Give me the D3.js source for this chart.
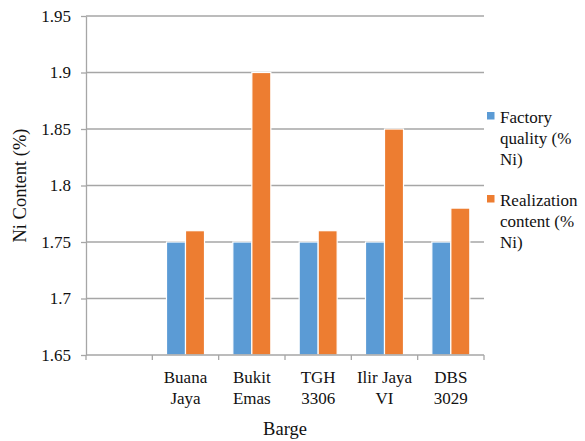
<!DOCTYPE html>
<html>
<head>
<meta charset="utf-8">
<script src="https://cdn.jsdelivr.net/npm/d3@7"></script>
</head>
<body style="margin:0;background:#fff">
<svg id="chart" width="585" height="441" font-family="Liberation Serif" style="display:block"></svg>
<script>
// Barge categories (first slot is left empty on the axis)
const categories = ["", "Buana\nJaya", "Bukit\nEmas", "TGH\n3306", "Ilir Jaya\nVI", "DBS\n3029"];
const seriesNames = ["Factory quality (% Ni)", "Realization content (% Ni)"];
const legendLines = [["Factory", "quality (%", "Ni)"], ["Realization", "content (%", "Ni)"]];
const factoryQuality = [null, 1.75, 1.75, 1.75, 1.75, 1.75];
const realizationContent = [null, 1.76, 1.90, 1.76, 1.85, 1.78];
const yTicks = [1.65, 1.7, 1.75, 1.8, 1.85, 1.9, 1.95];
const colors = ["#5B9BD5", "#ED7D31"];

const FONT = "Liberation Serif";
const svg = d3.select("#chart");
const margin = { left: 86, right: 101, top: 16, bottom: 86 };
const width = 585 - margin.left - margin.right;
const height = 441 - margin.top - margin.bottom;

const g = svg.append("g").attr("transform", `translate(${margin.left},${margin.top})`);

const x = d3.scaleBand().domain(d3.range(categories.length)).range([0, width]).paddingInner(0).paddingOuter(0);
const x1 = d3.scaleBand().domain([0, 1]).range([0, 38]).padding(0);
const y = d3.scaleLinear().domain([1.65, 1.95]).range([height, 0]);

const gridColor = "#A6A6A6";

// horizontal gridlines
g.append("g").selectAll("line").data(yTicks.slice(1)).join("line")
  .attr("x1", 0).attr("x2", width)
  .attr("y1", d => y(d)).attr("y2", d => y(d))
  .attr("stroke", gridColor).attr("stroke-width", 1.3);

// y axis
const yAxis = g.append("g").call(d3.axisLeft(y).tickValues(yTicks).tickSize(5).tickSizeOuter(0).tickFormat(d => String(+d.toFixed(2))));
yAxis.attr("font-family", FONT).attr("font-size", 17);
yAxis.select(".domain").attr("stroke", gridColor).attr("stroke-width", 1.3);
yAxis.selectAll(".tick line").attr("stroke", gridColor).attr("stroke-width", 1.3);
yAxis.selectAll(".tick text").attr("x", -15).attr("fill", "#111")
  .attr("font-family", FONT).attr("font-size", 17);

// bars
const series = [factoryQuality, realizationContent];
const groups = g.append("g").selectAll("g").data(categories.map((c, i) => i)).join("g")
  .attr("transform", i => `translate(${x(i) + (x.bandwidth() - 38) / 2},0)`);
groups.selectAll("rect")
  .data(i => series.map((s, k) => ({ k, v: s[i] })).filter(d => d.v != null))
  .join("rect")
  .attr("x", d => x1(d.k))
  .attr("width", x1.bandwidth())
  .attr("y", d => y(d.v))
  .attr("height", d => y(1.65) - y(d.v))
  .attr("fill", d => colors[d.k])
  .attr("stroke", "#fff").attr("stroke-width", 1.2);

// x axis with ticks at category boundaries
const xa = g.append("g").attr("transform", `translate(0,${height})`);
xa.append("line").attr("x1", 0).attr("x2", width).attr("stroke", gridColor).attr("stroke-width", 1.3);
xa.selectAll("line.tk").data(d3.range(categories.length + 1)).join("line").attr("class", "tk")
  .attr("x1", i => i * x.step()).attr("x2", i => i * x.step())
  .attr("y1", 0).attr("y2", 5).attr("stroke", gridColor).attr("stroke-width", 1.3);
xa.selectAll("text.lbl").data(categories).join("text").attr("class", "lbl")
  .attr("text-anchor", "middle").attr("fill", "#111")
  .attr("font-family", FONT).attr("font-size", 17)
  .attr("transform", (d, i) => `translate(${x(i) + x.bandwidth() / 2},28)`)
  .selectAll("tspan").data(d => d.split("\n")).join("tspan")
  .attr("x", 0).attr("dy", (d, j) => j === 0 ? 0 : 21).text(d => d);

// axis titles
svg.append("text").attr("x", margin.left + width / 2).attr("y", 435)
  .attr("text-anchor", "middle").attr("fill", "#111")
  .attr("font-family", FONT).attr("font-size", 18.5).text("Barge");
svg.append("text").attr("transform", `translate(26,${margin.top + height / 2}) rotate(-90)`)
  .attr("text-anchor", "middle").attr("fill", "#111")
  .attr("font-family", FONT).attr("font-size", 18.5).text("Ni Content (%)");

// legend
const legend = svg.append("g").attr("transform", "translate(487,0)");
const lg = legend.selectAll("g").data(seriesNames).join("g")
  .attr("transform", (d, i) => `translate(0,${112 + i * 83})`);
lg.append("rect").attr("width", 7.5).attr("height", 7.5).attr("fill", (d, i) => colors[i]);
lg.append("text").attr("x", 13).attr("y", 11).attr("fill", "#111")
  .attr("font-family", FONT).attr("font-size", 17)
  .selectAll("tspan").data((d, i) => legendLines[i]).join("tspan")
  .attr("x", 13).attr("dy", (d, j) => j === 0 ? 0 : 21).text(d => d);
</script>
</body>
</html>
